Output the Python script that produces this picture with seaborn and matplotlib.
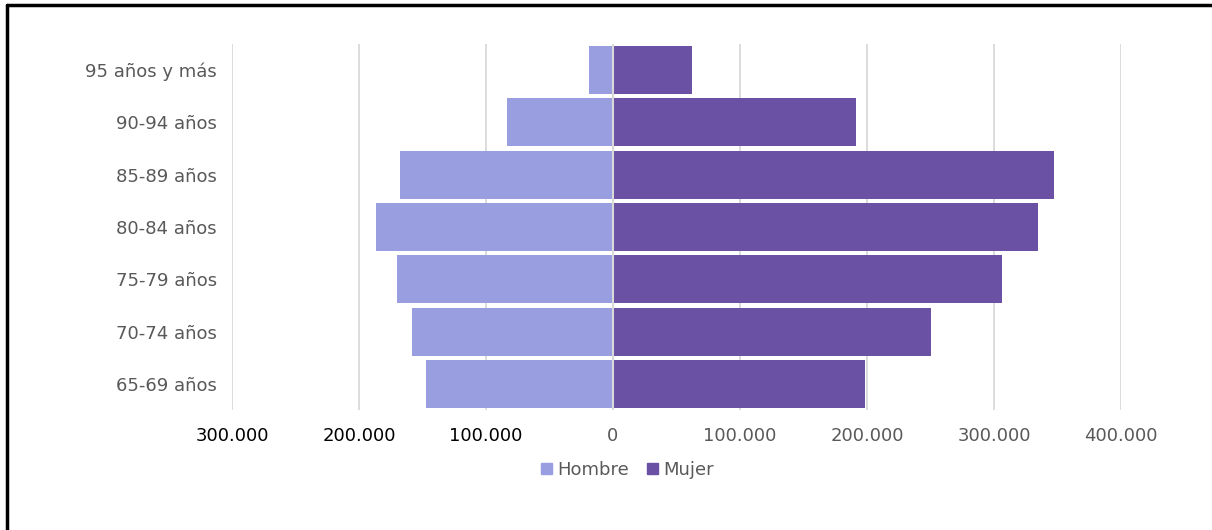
import pandas as pd
import matplotlib.pyplot as plt
import seaborn as sns
from matplotlib.lines import Line2D
from matplotlib.ticker import FuncFormatter

# data (people per age group)
grupos = ["95 años y más", "90-94 años", "85-89 años", "80-84 años",
          "75-79 años", "70-74 años", "65-69 años"]
hombres = [19000, 83500, 167500, 186500, 170000, 158000, 147000]
mujeres = [62000, 191500, 347000, 334500, 306000, 250500, 198500]
ticks = [-300000, -200000, -100000, 0, 100000, 200000, 300000, 400000]

df = pd.DataFrame({
    "grupo": grupos * 2,
    "valor": [-v for v in hombres] + mujeres,
    "sexo": ["Hombre"] * len(grupos) + ["Mujer"] * len(grupos),
})

sns.set_style("white")
plt.rcParams["font.family"] = ["DejaVu Sans"]

fig = plt.figure(figsize=(12.12, 5.30), dpi=100)
ax = fig.add_axes([0.1914, 0.2264, 0.7335, 0.6906])

colores = {"Hombre": "#989EE0", "Mujer": "#6A51A3"}
sns.barplot(data=df, y="grupo", x="valor", hue="sexo", order=grupos,
            hue_order=["Hombre", "Mujer"], palette=colores, dodge=False,
            orient="h", width=0.92, linewidth=0, saturation=1, ax=ax,
            zorder=2)

ax.set_xlim(-300000, 400000)
ax.set_ylim(6.5, -0.5)
ax.set_xticks(ticks)
ax.xaxis.set_major_formatter(FuncFormatter(lambda v, p: f"{abs(int(v)):,}".replace(",", ".")))
ax.grid(axis="x", color="#d9d9d9", linewidth=1.3, zorder=0)
ax.axvline(0, color="#d9d9d9", linewidth=1.5, zorder=3)
for s in ax.spines.values():
    s.set_visible(False)
ax.tick_params(axis="x", length=0, pad=12, labelsize=13, labelcolor="#595959")
ax.tick_params(axis="y", length=0, pad=11, labelsize=13, labelcolor="#595959")
for lbl, t in zip(ax.get_xticklabels(), ticks):
    if t < 0:
        lbl.set_color("black")
ax.set_xlabel("")
ax.set_ylabel("")

handles = [plt.Rectangle((0, 0), 1, 1, color=colores[k]) for k in ["Hombre", "Mujer"]]
ax.legend(handles, ["Hombre", "Mujer"], loc="center", bbox_to_anchor=(0.518, 0.113),
          bbox_transform=fig.transFigure, ncol=2, frameon=False, fontsize=13,
          handlelength=0.6, handleheight=0.6, handletextpad=0.3, columnspacing=1.0,
          labelcolor="#595959")

# frame lines at top and left like the original screenshot
fig.add_artist(Line2D([0.006, 1.0], [0.99, 0.99], color="black", linewidth=2.5,
                      transform=fig.transFigure))
fig.add_artist(Line2D([0.006, 0.006], [0.0, 0.99], color="black", linewidth=2.5,
                      transform=fig.transFigure))

fig.savefig("out.png", dpi=100)
